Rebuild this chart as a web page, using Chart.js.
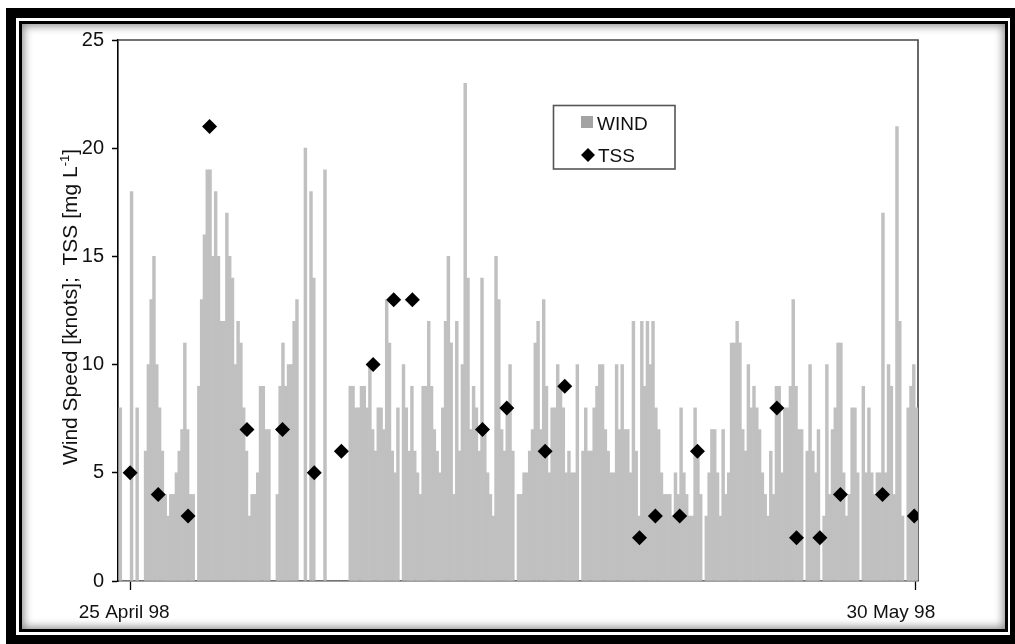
<!DOCTYPE html>
<html><head><meta charset="utf-8">
<script src="https://cdn.jsdelivr.net/npm/chart.js@4.4.1/dist/chart.umd.min.js"></script>
<style>
html,body{margin:0;padding:0;background:#fff;width:1015px;height:644px;overflow:hidden;}
#outer{position:absolute;left:6px;top:8px;width:1014px;height:637px;border:10px solid #000;box-sizing:border-box;background:#fff;}
#inner{position:absolute;left:19px;top:21px;width:989px;height:611px;border:3px solid #000;box-sizing:border-box;box-shadow:inset 0 0 9px 2px rgba(0,0,0,0.45);background:#fff;}
#c{position:absolute;left:0;top:0;}
</style></head>
<body>
<div id="outer"></div>
<div id="inner"></div>
<canvas id="c" width="1015" height="644"></canvas>
<script>
// ---- data ----
const windStartHour = -12;   // first wind bin starts 12 h before 25 April 98 00:00
const windStepHours = 3;     // each wind value is a 3-hour bin
const windKnots = [
  8,0,0,0,18,0,8,0,0,6,
  10,13,15,10,8,6,4,3,4,4,
  5,6,7,11,7,4,4,0,9,13,
  16,19,19,15,18,15,12,12,17,15,
  14,10,12,11,8,6,3,4,4,5,
  9,9,7,7,0,0,4,9,11,9,
  10,10,12,13,0,0,20,0,18,14,
  0,0,0,19,0,0,0,0,0,0,
  0,0,9,9,8,8,9,9,8,10,
  7,6,8,8,7,13,11,6,5,8,
  0,10,8,6,9,6,5,4,9,9,
  12,9,7,6,5,8,12,15,11,4,
  12,6,10,23,14,7,9,8,6,14,
  7,5,4,3,15,13,7,6,8,10,
  6,0,4,4,5,5,6,7,11,12,
  7,13,9,5,8,8,10,9,8,5,
  6,5,5,10,0,6,8,6,6,8,
  9,10,10,7,6,5,5,10,7,10,
  7,7,5,12,6,3,12,9,12,10,
  12,8,7,5,4,4,4,3,5,4,
  8,5,4,3,3,8,6,4,0,3,
  5,7,7,5,3,7,4,5,11,11,
  12,11,7,6,10,8,9,8,7,5,
  4,3,6,4,9,9,5,8,8,9,
  13,9,7,7,0,6,10,6,5,7,
  0,3,10,4,7,8,11,11,5,3,
  4,8,8,5,0,9,5,8,5,4,
  5,5,17,5,10,9,4,21,12,3,
  0,8,9,10,8
];
const tssHours  = [0,30,62,85,125,163,197,226,260,282,302,377,403,444,465,545,562,588,607,692,713,738,760,805,839];
const tssValues = [5,4,3,21,7,7,5,6,10,13,13,7,8,6,9,2,3,3,6,8,2,2,4,4,3];
const yTickValues = [0,5,10,15,20,25];
const xTickHours  = [0,840];
const xTickLabels = ['25 April 98','30 May 98'];
const yTitleMain = 'Wind Speed [knots];  TSS [mg L';
const yTitleSup  = '-1';
const yTitleEnd  = ']';
const seriesNames = ['WIND','TSS'];

// ---- styling ----
const FONT = "'Liberation Sans', Arial, Helvetica, sans-serif";
const TEXT = '#111';
const WIND_COLOR = '#c0c0c0';
const WIND_LEGEND_COLOR = '#a3a3a3';

const windData = windKnots.map((v,i)=>({x: windStartHour + windStepHours*(i+0.5), y: v}));
const tssData = tssHours.map((h,i)=>({x:h, y:tssValues[i]}));

const decor = {
  id:'decor',
  beforeDatasetsDraw(chart){
    const {ctx, chartArea:a} = chart;
    ctx.save();
    ctx.strokeStyle = '#444'; ctx.lineWidth = 1.6;
    ctx.beginPath();
    ctx.moveTo(a.left, a.top); ctx.lineTo(a.right, a.top); ctx.lineTo(a.right, a.bottom);
    ctx.stroke();
    ctx.restore();
  },
  afterDraw(chart){
    const {ctx} = chart;
    const xs = chart.scales.x;
    ctx.save();
    ctx.fillStyle = TEXT;
    ctx.font = '19px ' + FONT;
    ctx.textBaseline = 'alphabetic';
    // x tick labels
    ctx.textAlign = 'center';
    ctx.fillText(xTickLabels[0], xs.getPixelForValue(xTickHours[0]) - 6, 618);
    ctx.textAlign = 'right';
    ctx.fillText(xTickLabels[1], xs.getPixelForValue(xTickHours[1]) + 20, 618);

    // y title (rotated, with superscript)
    ctx.save();
    ctx.translate(77, 307);
    ctx.rotate(-Math.PI/2);
    ctx.textAlign = 'left';
    const mainFont = '21px ' + FONT, supFont = '13px ' + FONT;
    ctx.font = mainFont; const w1 = ctx.measureText(yTitleMain).width;
    ctx.font = supFont;  const w2 = ctx.measureText(yTitleSup).width;
    ctx.font = mainFont; const w3 = ctx.measureText(yTitleEnd).width;
    let x0 = -(w1 + w2 + w3)/2;
    ctx.font = mainFont; ctx.fillText(yTitleMain, x0, 0); x0 += w1;
    ctx.font = supFont;  ctx.fillText(yTitleSup, x0, -8); x0 += w2;
    ctx.font = mainFont; ctx.fillText(yTitleEnd, x0, 0);
    ctx.restore();

    // legend box
    ctx.strokeStyle = '#555'; ctx.lineWidth = 1.6;
    ctx.strokeRect(553.5, 105.5, 121.5, 63.5);
    ctx.fillStyle = WIND_LEGEND_COLOR;
    ctx.fillRect(581, 116, 12, 12);
    ctx.fillStyle = '#000';
    ctx.beginPath();
    ctx.moveTo(581, 155); ctx.lineTo(588, 148); ctx.lineTo(595, 155); ctx.lineTo(588, 162); ctx.closePath();
    ctx.fill();
    ctx.fillStyle = TEXT;
    ctx.font = '19px ' + FONT;
    ctx.textAlign = 'left';
    ctx.fillText(seriesNames[0], 597, 130);
    ctx.fillText(seriesNames[1], 598, 162);
    ctx.restore();
  }
};

new Chart(document.getElementById('c'), {
  type:'bar',
  data:{
    datasets:[
      { type:'scatter', label:seriesNames[1], data:tssData, order:0,
        pointStyle:'rectRot', pointRadius:7.5, pointHoverRadius:7.5,
        backgroundColor:'#000', borderColor:'#000', borderWidth:0 },
      { type:'bar', label:seriesNames[0], data:windData, order:1,
        backgroundColor:WIND_COLOR, borderWidth:0,
        barPercentage:1, categoryPercentage:1, grouped:false }
    ]
  },
  options:{
    responsive:false, animation:false, devicePixelRatio:1,
    layout:{ padding:{ left:0, top:40, right:97, bottom:0 } },
    plugins:{ legend:{display:false}, tooltip:{enabled:false}, title:{display:false} },
    scales:{
      x:{
        type:'linear', min:-13, max:843, offset:false,
        afterBuildTicks(s){ s.ticks = xTickHours.map(v=>({value:v})); },
        afterFit(s){ s.height = 63; },
        ticks:{ display:false },
        grid:{ offset:false, drawOnChartArea:false, drawTicks:true, tickLength:9, tickColor:'#000', tickWidth:1.3 },
        border:{ display:true, color:'#444', width:1.6 }
      },
      y:{
        min:0, max:25,
        afterBuildTicks(s){ s.ticks = yTickValues.map(v=>({value:v})); },
        afterFit(s){ s.width = 118; },
        ticks:{ color:TEXT, font:{ family:FONT, size:20 }, padding:8 },
        grid:{ drawOnChartArea:false, drawTicks:true, tickLength:6, tickColor:'#000', tickWidth:1.5 },
        border:{ display:true, color:'#000', width:1.6 }
      }
    }
  },
  plugins:[decor]
});
</script>
</body></html>
